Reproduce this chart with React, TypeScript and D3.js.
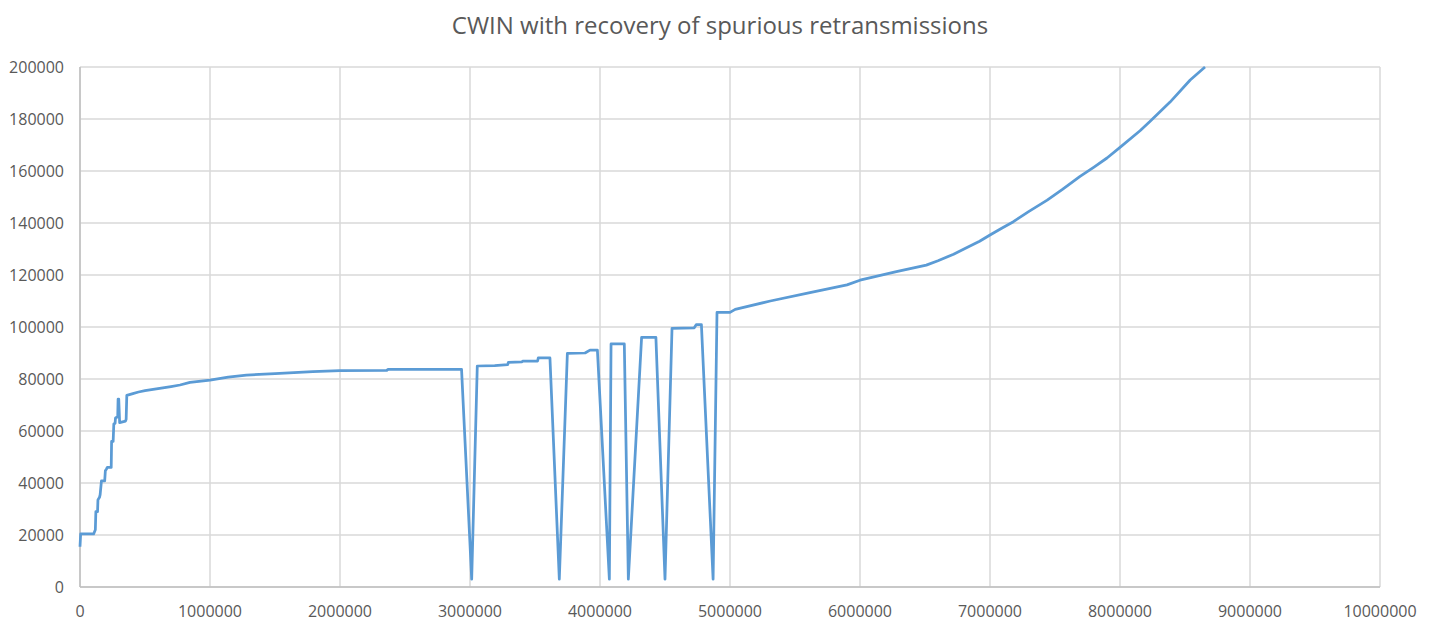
import React from "react";
import { scaleLinear, line, range } from "d3";

const title = "CWIN with recovery of spurious retransmissions";

// time (x) and cwin (y) samples
const timeValues: number[] = [
  0, 5000, 105000, 118000, 122000, 135000, 138000, 150000, 155000, 165000,
  190000, 195000, 205000, 210000, 240000, 243000, 255000, 260000, 270000, 273000,
  290000, 293000, 298000, 305000, 350000, 355000, 360000, 400000, 450000, 500000,
  600000, 700000, 769000, 846000, 1000000, 1140000, 1280000, 1500000, 1790000, 2000000,
  2360000, 2370000, 2935000, 3013000, 3056000, 3190000, 3290000, 3295000, 3400000, 3405000,
  3520000, 3525000, 3615000, 3687000, 3749000, 3885000, 3923000, 3980000, 4072000, 4085000,
  4187000, 4218000, 4320000, 4430000, 4500000, 4554000, 4725000, 4740000, 4780000, 4870000,
  4900000, 5000000, 5040000, 5310000, 5615000, 5900000, 6000000, 6280000, 6510000, 6600000,
  6720000, 6800000, 6920000, 7000000, 7090000, 7180000, 7300000, 7440000, 7560000, 7690000,
  7800000, 7900000, 8000000, 8154000, 8230000, 8385000, 8540000, 8654000,
];
const cwinValues: number[] = [
  15500, 20400, 20400, 22000, 29000, 29000, 33500, 34500, 35500, 40800,
  40800, 44700, 45500, 46000, 46000, 56000, 56000, 62700, 63000, 65000,
  65500, 72300, 72300, 63200, 63800, 64500, 73700, 74300, 75000, 75500,
  76300, 77100, 77700, 78700, 79600, 80700, 81500, 82100, 82800, 83200,
  83300, 83700, 83700, 3000, 85000, 85100, 85500, 86400, 86600, 86900,
  86900, 88100, 88100, 3000, 89900, 90000, 91100, 91100, 3000, 93500,
  93500, 3000, 96000, 96000, 3000, 99500, 99700, 100900, 100900, 3000,
  105600, 105600, 106800, 110000, 113200, 116200, 118000, 121300, 123800, 125500,
  128000, 130000, 133000, 135400, 138000, 140500, 144500, 148800, 153000, 157800,
  161500, 165000, 169100, 175500, 179000, 186500, 195000, 200000,
];

const xTicks = range(0, 10000001, 1000000);
const yTicks = range(0, 200001, 20000);

const W = 1430;
const H = 629;
const margin = { left: 80, right: 50, top: 67, bottom: 42 };
const font = "'Open Sans', 'Noto Sans', sans-serif";

export default function App() {
  const x = scaleLinear().domain([0, 10000000]).range([margin.left, W - margin.right]);
  const y = scaleLinear().domain([0, 200000]).range([H - margin.bottom, margin.top]);
  const pts: [number, number][] = timeValues.map((t, i) => [t, cwinValues[i]]);
  const path = line<[number, number]>()
    .x((d) => x(d[0]))
    .y((d) => y(d[1]))(pts);

  return (
    <svg
      width={W}
      height={H}
      style={{ position: "absolute", left: 0, top: 0, background: "#fff" }}
    >
      <text
        x={W / 2 + 5}
        y={34}
        textAnchor="middle"
        fontFamily={font}
        fontSize={24}
        fill="#595959"
      >
        {title}
      </text>
      {/* grid */}
      {yTicks.map((v) => (
        <line
          key={"gy" + v}
          x1={x(0)}
          x2={x(10000000)}
          y1={y(v)}
          y2={y(v)}
          stroke="#d9d9d9"
          strokeWidth={1.5}
        />
      ))}
      {xTicks.map((v) => (
        <line
          key={"gx" + v}
          x1={x(v)}
          x2={x(v)}
          y1={y(0)}
          y2={y(200000)}
          stroke="#d9d9d9"
          strokeWidth={1.5}
        />
      ))}
      {/* axes */}
      <line x1={x(0)} x2={x(10000000)} y1={y(0)} y2={y(0)} stroke="#bfbfbf" strokeWidth={1.5} />
      <line x1={x(0)} x2={x(0)} y1={y(0)} y2={y(200000)} stroke="#bfbfbf" strokeWidth={1.5} />
      {yTicks.map((v) => (
        <text
          key={"ty" + v}
          x={64}
          y={y(v)}
          dy="0.35em"
          textAnchor="end"
          fontFamily={font}
          fontSize={16}
          fill="#595959"
        >
          {v}
        </text>
      ))}
      {xTicks.map((v) => (
        <text
          key={"tx" + v}
          x={x(v)}
          y={617}
          textAnchor="middle"
          fontFamily={font}
          fontSize={16}
          fill="#595959"
        >
          {v}
        </text>
      ))}
      <path
        d={path ?? ""}
        fill="none"
        stroke="#5b9bd5"
        strokeWidth={2.75}
        strokeLinejoin="round"
      />
    </svg>
  );
}
